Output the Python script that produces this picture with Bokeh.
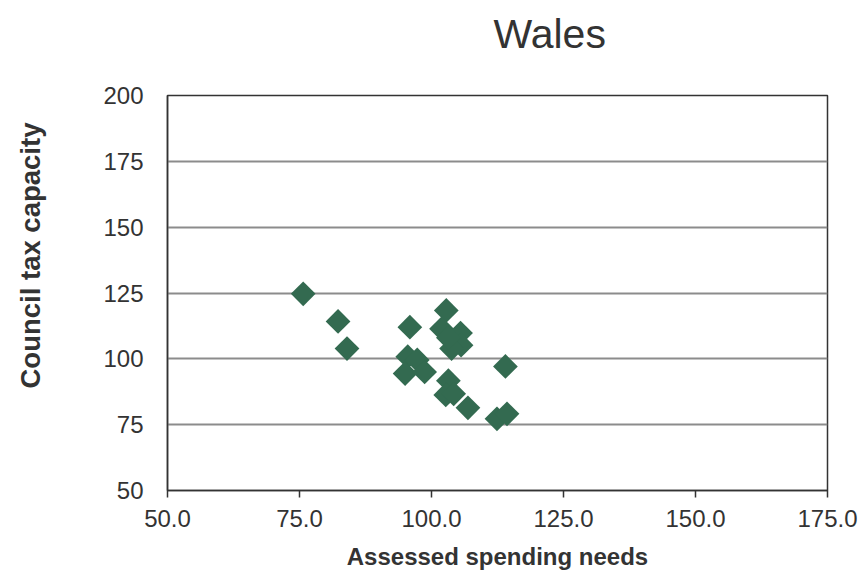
import math
from bokeh.plotting import figure
from bokeh.models import (FixedTicker, NumeralTickFormatter, ColumnDataSource, Range1d,
                          LinearAxis, Title, CustomJSTickFormatter)
from bokeh.embed import file_html
from bokeh.resources import INLINE

# Welsh local authorities: assessed spending needs vs council tax capacity (index)
spending_needs = [75.7, 82.3, 84.0, 95.9, 102.8,
                  101.9, 105.5, 105.6, 103.8, 103.2,
                  95.5, 97.3, 95.0, 98.7,
                  103.2, 102.7, 104.2, 106.9,
                  114.0, 112.4, 114.3]
tax_capacity = [124.7, 114.2, 103.9, 112.0, 118.4,
                111.4, 109.8, 105.2, 103.9, 108.0,
                100.8, 99.6, 94.4, 95.0,
                91.7, 86.3, 86.7, 81.4,
                97.1, 77.2, 79.1]

x_ticks = [50, 75, 100, 125, 150, 175]
y_ticks = [50, 75, 100, 125, 150, 175, 200]

title_text = "Wales"
x_title = "Assessed spending needs"
y_title = "Council tax capacity"

src = ColumnDataSource(data=dict(x=spending_needs, y=tax_capacity))

p = figure(width=868, height=576, output_backend="svg", toolbar_location=None,
           x_range=Range1d(50, 175), y_range=Range1d(50, 200),
           min_border_left=167, min_border_right=41,
           min_border_top=95, min_border_bottom=86)

p.background_fill_color = "white"
p.border_fill_color = "white"
p.outline_line_color = "#333333"
p.outline_line_width = 1.5

font = "Liberation Sans"
ink = "#333333"

xa = p.xaxis[0]
xa.ticker = FixedTicker(ticks=x_ticks)
xa.formatter = NumeralTickFormatter(format="0.0")
xa.axis_label = x_title
xa.axis_label_text_font = font
xa.axis_label_text_font_size = "24px"
xa.axis_label_text_font_style = "bold"
xa.axis_label_text_color = ink
xa.axis_label_standoff = 13
xa.major_label_text_font = font
xa.major_label_text_font_size = "24px"
xa.major_label_text_color = ink
xa.major_label_standoff = 12
xa.major_tick_out = 7
xa.major_tick_in = 0
xa.minor_tick_out = 0
xa.minor_tick_in = 0
xa.axis_line_color = ink
xa.axis_line_width = 1.5
xa.major_tick_line_color = ink
xa.major_tick_line_width = 1.5

ya = p.yaxis[0]
ya.ticker = FixedTicker(ticks=y_ticks)
ya.axis_label = None
ya.major_label_text_font = font
ya.major_label_text_font_size = "24px"
ya.major_label_text_color = ink
ya.major_label_standoff = 24
ya.major_label_orientation = "horizontal"
ya.major_tick_out = 0
ya.major_tick_in = 0
ya.minor_tick_out = 0
ya.minor_tick_in = 0
ya.axis_line_color = ink
ya.axis_line_width = 1.5


def gap(width, at):
    """Unlabelled axis with one invisible tick; it only reserves space beside the frame."""
    return LinearAxis(ticker=FixedTicker(ticks=[at]),
                      formatter=CustomJSTickFormatter(code="return ''"),
                      axis_line_color=None, major_tick_line_color=None,
                      minor_tick_line_color=None, major_label_text_font_size="1px",
                      major_label_standoff=0, major_tick_in=0, minor_tick_in=0,
                      minor_tick_out=0, major_tick_out=width)


# room between frame and chart title, and between tick labels and y title
p.add_layout(gap(39, 175), "above")
p.add_layout(gap(55, 50), "left")

p.title.text = title_text
p.title.text_font = font
p.title.text_font_size = "41px"
p.title.text_font_style = "normal"
p.title.text_color = ink
p.title.align = "left"
p.title.offset = 326
p.title.standoff = 0

p.add_layout(Title(text=y_title, text_font=font, text_font_size="27.5px",
                   text_font_style="bold", text_color=ink,
                   align="left", offset=102, standoff=0), "left")

p.xgrid.grid_line_color = None
p.ygrid.ticker = FixedTicker(ticks=[75, 100, 125, 150, 175])
p.ygrid.grid_line_color = "#8c8c8c"
p.ygrid.grid_line_width = 2

p.scatter("x", "y", source=src, marker="square", angle=math.pi / 4,
          size=17.5, fill_color="#336a50", line_color="#336a50", line_width=0)

open("out.html", "w").write(file_html(p, INLINE))
